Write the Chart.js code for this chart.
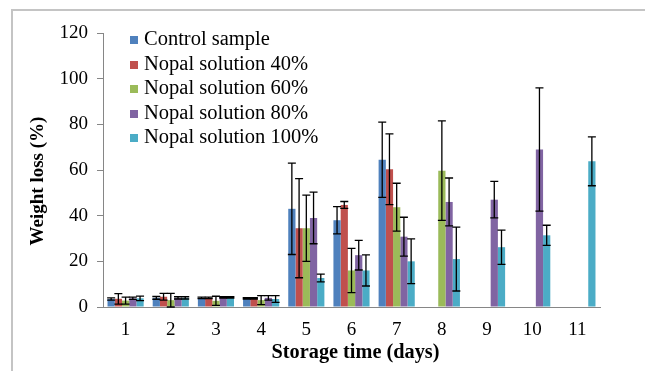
<!DOCTYPE html>
<html>
<head>
<meta charset="utf-8">
<script src="https://cdn.jsdelivr.net/npm/chart.js@4/dist/chart.umd.min.js"></script>
<style>
  body { margin: 0; background: #fff; }
  #wrap { position: relative; width: 645px; height: 371px; overflow: hidden; }
  #frame { position: absolute; left: 11px; top: 9px; width: 700px; height: 400px;
           border-left: 2px solid #c4c4c4; border-top: 2px solid #c4c4c4; }
  #chart { position: absolute; left: 0; top: 0; }
  #legend { position: absolute; left: 130px; top: 26px; margin: 0; padding: 0; list-style: none;
            font-family: "Liberation Serif", "Times New Roman", serif; font-size: 20.5px; color: #000; }
  #legend li { height: 24.5px; line-height: 24.5px; white-space: nowrap; }
  #legend span { display: inline-block; width: 8px; height: 8px; margin-right: 6px; vertical-align: 1px; }
</style>
</head>
<body>
<div id="wrap">
  <div id="frame"></div>
  <canvas id="chart" width="645" height="371"></canvas>
  <ul id="legend"></ul>
</div>
<script>
const days = ['1', '2', '3', '4', '5', '6', '7', '8', '9', '10', '11'];

const seriesNames = ['Control sample', 'Nopal solution 40%', 'Nopal solution 60%', 'Nopal solution 80%', 'Nopal solution 100%'];
const seriesColors = ['#4F81BD', '#C0504D', '#9BBB59', '#8064A2', '#4BACC6'];

const control   = [3.5, 4, 4, 3.8, 43, 38, 64.5, null, null, null, null];
const controlSd = [0.5, 0.6, 0.3, 0.3, 20, 6, 16.5, null, null, null, null];
const nopal40   = [3.6, 4.5, 4, 3.8, 34.5, 44.7, 60.3, null, null, null, null];
const nopal40Sd = [2.3, 1.5, 0.3, 0.3, 21.7, 1.5, 15.5, null, null, null, null];
const nopal60   = [2.8, 3, 2.7, 3, 34.5, 16, 43.7, 59.7, null, null, null];
const nopal60Sd = [1.5, 3, 2, 2, 14.5, 9.7, 10.5, 21.8, null, null, null];
const nopal80   = [3.8, 4, 4.2, 4, 39, 22.7, 30.8, 46, 47, 69, null];
const nopal80Sd = [0.5, 0.5, 0.3, 1, 11.3, 6.5, 8.5, 10.5, 8, 27, null];
const nopal100   = [3.8, 4, 4.2, 3.5, 12.7, 16, 20, 21, 26.2, 31.4, 63.8];
const nopal100Sd = [1, 0.5, 0.3, 1.5, 1.7, 6.8, 9.8, 14, 7.5, 4.4, 10.7];

const values = [control, nopal40, nopal60, nopal80, nopal100];
const errors = [controlSd, nopal40Sd, nopal60Sd, nopal80Sd, nopal100Sd];

const xTitle = 'Storage time (days)';
const yTitle = 'Weight loss (%)';

const serif = '"Liberation Serif", "Times New Roman", serif';
const axisGray = '#868686';

// error bars drawn from the y scale, on top of the bars
const errorBars = {
    id: 'errorBars',
    afterDatasetsDraw(chart) {
        const ctx = chart.ctx;
        const y = chart.scales.y;
        ctx.save();
        ctx.strokeStyle = '#000';
        ctx.lineWidth = 1.3;
        chart.data.datasets.forEach((ds, d) => {
            const meta = chart.getDatasetMeta(d);
            meta.data.forEach((bar, i) => {
                const v = ds.data[i];
                const e = errors[d][i];
                if (v == null || e == null) return;
                const top = y.getPixelForValue(v + e);
                const bot = y.getPixelForValue(Math.max(v - e, 0));
                ctx.beginPath();
                ctx.moveTo(bar.x, top);
                ctx.lineTo(bar.x, bot);
                ctx.moveTo(bar.x - 4, top);
                ctx.lineTo(bar.x + 4, top);
                ctx.moveTo(bar.x - 4, bot);
                ctx.lineTo(bar.x + 4, bot);
                ctx.stroke();
            });
        });
        ctx.restore();
    }
};

// axis titles sit a little off-centre in the original, so place them by hand
const axisTitles = {
    id: 'axisTitles',
    afterDraw(chart) {
        const ctx = chart.ctx;
        const area = chart.chartArea;
        ctx.save();
        ctx.fillStyle = '#000';
        ctx.textAlign = 'center';
        ctx.textBaseline = 'middle';
        ctx.font = 'bold 20.3px ' + serif;
        ctx.fillText(xTitle, (area.left + area.right) / 2 + 4, 353);
        ctx.translate(38, (area.top + area.bottom) / 2 + 11);
        ctx.rotate(-Math.PI / 2);
        ctx.font = 'bold 19px ' + serif;
        ctx.fillText(yTitle, 0, 0);
        ctx.restore();
    }
};

const ctx = document.getElementById('chart').getContext('2d');
new Chart(ctx, {
    type: 'bar',
    data: {
        labels: days,
        datasets: seriesNames.map((name, i) => ({
            label: name,
            data: values[i],
            backgroundColor: seriesColors[i],
            borderWidth: 0,
            categoryPercentage: 0.8,
            barPercentage: 1.0
        }))
    },
    options: {
        responsive: false,
        animation: false,
        layout: { padding: { left: 0, right: 45, top: 33, bottom: 0 } },
        plugins: {
            legend: { display: false },
            tooltip: { enabled: false }
        },
        scales: {
            x: {
                grid: { drawOnChartArea: false, drawTicks: false },
                border: { color: axisGray, width: 1 },
                ticks: { color: '#000', font: { family: serif, size: 19 }, padding: 12, maxRotation: 0 },
                afterFit: (s) => { s.height = 64; }
            },
            y: {
                min: 0,
                max: 120,
                grid: { drawOnChartArea: false, drawTicks: true, tickLength: 6, color: axisGray },
                border: { color: axisGray, width: 1 },
                ticks: { stepSize: 20, color: '#000', font: { family: serif, size: 19 }, padding: 9 },
                afterFit: (s) => { s.width = 103; }
            }
        }
    },
    plugins: [errorBars, axisTitles]
});

const legend = document.getElementById('legend');
seriesNames.forEach((name, i) => {
    const li = document.createElement('li');
    li.innerHTML = '<span style="background:' + seriesColors[i] + '"></span>' + name;
    legend.appendChild(li);
});
</script>
</body>
</html>
